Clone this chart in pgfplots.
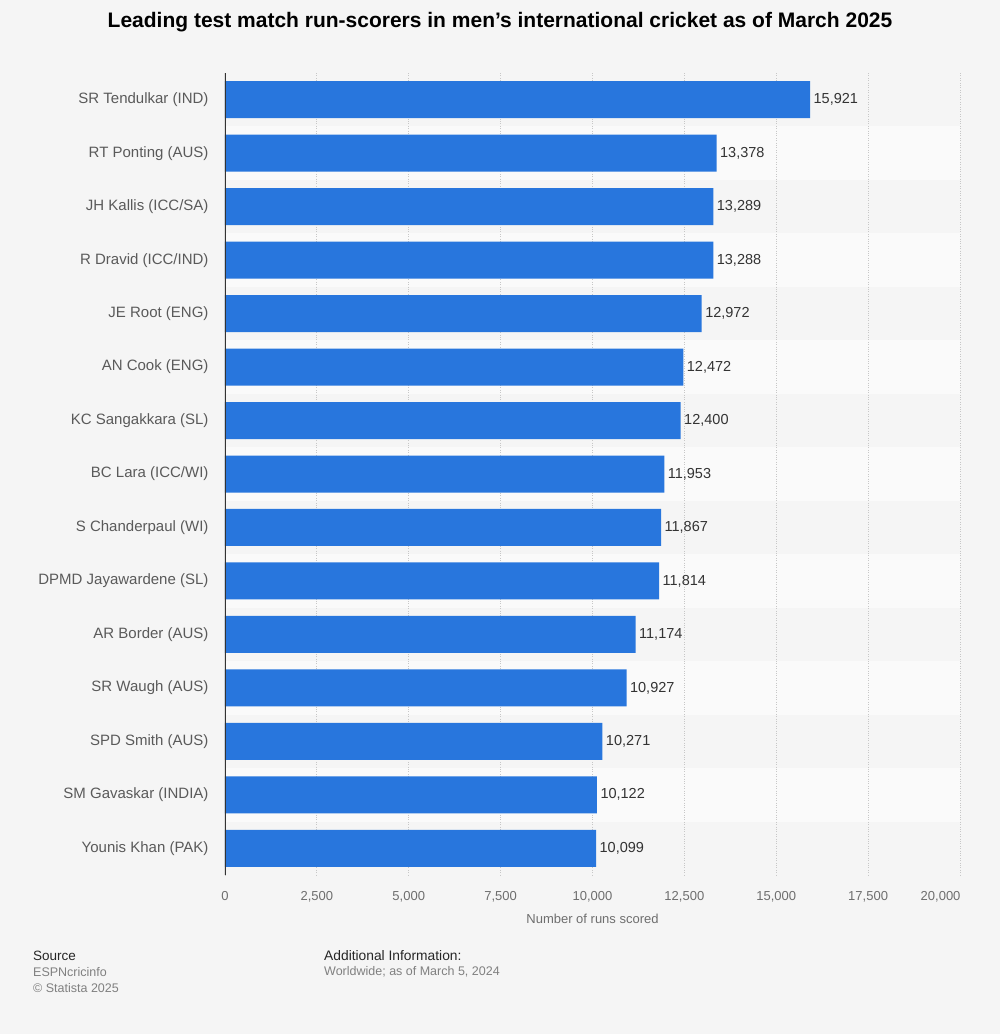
\documentclass[border=0pt]{standalone}
\usepackage{fontspec}
\setmainfont{Liberation Sans}
\usepackage{pgfplots}
\pgfplotsset{compat=1.18}

\definecolor{pagebg}{HTML}{F5F5F5}
\definecolor{bandlight}{HTML}{FAFAFA}
\definecolor{barblue}{HTML}{2876DD}
\definecolor{labelgray}{HTML}{5A5A5A}
\definecolor{tickgray}{HTML}{6E6E6E}
\definecolor{valgray}{HTML}{333333}

\begin{document}
\begin{tikzpicture}[x=1pt,y=1pt]
\fill[pagebg] (0,0) rectangle (1000,1034);
% light row bands behind the plot (rows 2, 4, ...); each row is 802/15 high
\foreach \i in {1,3,...,13}{
  \fill[bandlight] (225,{961-802/15*(\i+1)}) rectangle (960,{961-802/15*\i});
}

\node[font=\fontsize{21}{24}\selectfont\bfseries, text=black] at (500,1012)
  {Leading test match run-scorers in men's international cricket as of March 2025};

\begin{axis}[
    at={(225pt,159pt)}, anchor=south west,
    scale only axis, width=735pt, height=802pt,
    xbar, bar width=37pt,
    xmin=0, xmax=20000,
    ymin=-0.5, ymax=14.5, y dir=reverse,
    xtick={0,2500,...,17500},
    extra x ticks={20000},
    extra x tick style={grid=major, xticklabel style={anchor=north east, xshift=4pt}},
    ytick={0,...,14},
    yticklabels={SR Tendulkar (IND), RT Ponting (AUS), JH Kallis (ICC/SA),
        R Dravid (ICC/IND), JE Root (ENG), AN Cook (ENG), KC Sangakkara (SL),
        BC Lara (ICC/WI), S Chanderpaul (WI), DPMD Jayawardene (SL),
        AR Border (AUS), SR Waugh (AUS), SPD Smith (AUS), SM Gavaskar (INDIA),
        Younis Khan (PAK)},
    scaled x ticks=false,
    /pgf/number format/assume math mode=true,
    /pgf/number format/1000 sep={,},
    /pgf/number format/fixed,
    major tick length=0pt,
    axis line style={draw=none},
    xmajorgrids,
    grid style={dotted, color=black!22, line width=0.8pt},
    xticklabel style={font=\fontsize{13}{15}\selectfont, text=tickgray, yshift=-13pt},
    yticklabel style={font=\fontsize{15}{17}\selectfont, text=labelgray, xshift=-13pt},
    xlabel={Number of runs scored},
    xlabel style={font=\fontsize{13}{15}\selectfont, text=tickgray, yshift=-5pt},
    nodes near coords,
    every node near coord/.append style={font=\fontsize{14.5}{17}\selectfont, text=valgray, xshift=0pt},
]
\addplot[fill=barblue, draw=none] coordinates {
    (15921,0)
    (13378,1)
    (13289,2)
    (13288,3)
    (12972,4)
    (12472,5)
    (12400,6)
    (11953,7)
    (11867,8)
    (11814,9)
    (11174,10)
    (10927,11)
    (10271,12)
    (10122,13)
    (10099,14)
};

\draw[black!80, line width=1.2pt] (axis cs:0,-0.5) -- (axis cs:0,14.5);
\end{axis}

\node[anchor=west, inner sep=0pt, font=\fontsize{13.5}{15}\selectfont, text=black!85] at (33,78) {Source};
\node[anchor=west, inner sep=0pt, font=\fontsize{12.5}{14}\selectfont, text=black!50] at (33,62) {ESPNcricinfo};
\node[anchor=west, inner sep=0pt, font=\fontsize{12.5}{14}\selectfont, text=black!50] at (33,46) {\textcopyright\ Statista 2025};
\node[anchor=west, inner sep=0pt, font=\fontsize{13.8}{15}\selectfont, text=black!85] at (324,78) {Additional Information:};
\node[anchor=west, inner sep=0pt, font=\fontsize{12.5}{14}\selectfont, text=black!50] at (324,62) {Worldwide; as of March 5, 2024};
\end{tikzpicture}
\end{document}
